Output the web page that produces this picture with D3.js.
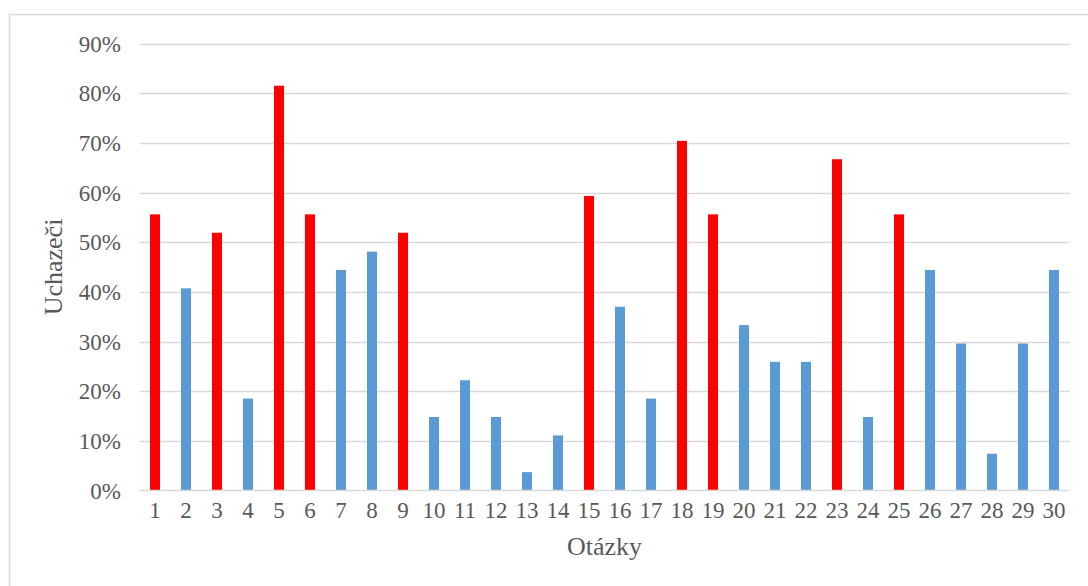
<!DOCTYPE html>
<html><head><meta charset="utf-8">
<script src="https://cdn.jsdelivr.net/npm/d3@7"></script>
<style>
html,body{margin:0;padding:0;background:#fff;}
svg{display:block;}
</style></head>
<body>
<svg id="c" width="1088" height="586"></svg>
<script>
const categories = d3.range(1, 31).map(String);
const values = [55.6, 40.7, 51.9, 18.5, 81.5, 55.6, 44.4, 48.1, 51.9, 14.8,
                22.2, 14.8, 3.7, 11.1, 59.3, 37.0, 18.5, 70.4, 55.6, 33.3,
                25.9, 25.9, 66.7, 14.8, 55.6, 44.4, 29.6, 7.4, 29.6, 44.4];
const highlighted = ["1","3","5","6","9","15","18","19","23","25"];
const yTicks = [0,10,20,30,40,50,60,70,80,90];
const xTitle = "Otázky";
const yTitle = "Uchazeči";

(function(){
const FONT = "'Liberation Serif', 'Times New Roman', Tinos, 'DejaVu Serif', serif";
const svg = d3.select("#c");
const W = 1088, H = 586;
const pL = 139.5, pR = 1069.5, pT = 43.5, pB = 490.5;

svg.append("path").attr("d", `M9.5,${H} V14.5 H${W}`)
  .attr("fill","none").attr("stroke","#d9d9d9").attr("stroke-width",1.5);

const x = d3.scaleBand().domain(categories).range([pL, pR]).paddingInner(0.677).paddingOuter(0.3385);
const y = d3.scaleLinear().domain([0, 90]).range([pB, pT]);

svg.append("g").selectAll("line").data(yTicks.filter(t => t > 0)).join("line")
  .attr("x1", pL).attr("x2", pR)
  .attr("y1", d => Math.round(y(d)) + 0.5).attr("y2", d => Math.round(y(d)) + 0.5)
  .attr("stroke","#d9d9d9").attr("stroke-width",1.5);

svg.append("g").selectAll("rect").data(categories).join("rect")
  .attr("x", d => x(d)).attr("width", x.bandwidth())
  .attr("y", (d,i) => y(values[i])).attr("height", (d,i) => y(0) - y(values[i]))
  .attr("fill", d => highlighted.includes(d) ? "#ff0000" : "#5b9bd5");

svg.append("line").attr("x1", pL).attr("x2", pR).attr("y1", pB).attr("y2", pB)
  .attr("stroke","#d9d9d9").attr("stroke-width",1.5);

const txt = sel => sel.attr("font-family", FONT).attr("fill", "#595959");

svg.append("g").selectAll("text").data(yTicks).join("text")
  .call(txt)
  .attr("x", 121).attr("y", d => y(d)).attr("dy","0.35em")
  .attr("text-anchor","end").attr("font-size", 23)
  .text(d => d + "%");

svg.append("g").selectAll("text").data(categories).join("text")
  .call(txt)
  .attr("x", d => x(d) + x.bandwidth()/2).attr("y", 518)
  .attr("text-anchor","middle").attr("font-size", 23)
  .text(d => d);

svg.append("text").call(txt).attr("x", (pL+pR)/2).attr("y", 555)
  .attr("text-anchor","middle").attr("font-size", 26).text(xTitle);
svg.append("text").call(txt).attr("transform","translate(62,267) rotate(-90)")
  .attr("text-anchor","middle").attr("font-size", 26).text(yTitle);
})();
</script>
</body></html>
